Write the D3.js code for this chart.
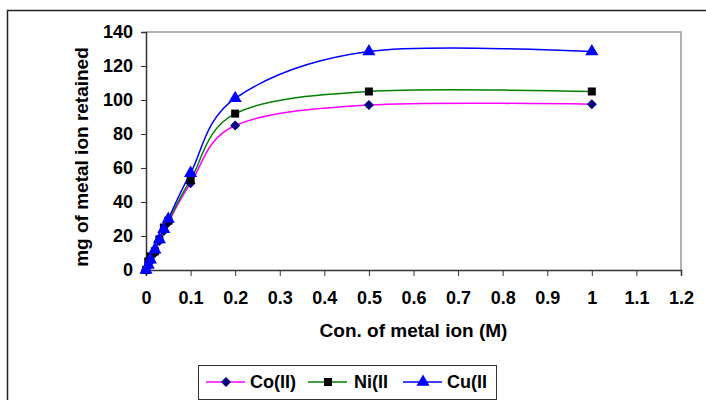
<!DOCTYPE html>
<html>
<head>
<meta charset="utf-8">
<script src="https://cdn.jsdelivr.net/npm/d3@7"></script>
<style>
  body { margin: 0; background: #fff; }
  svg text { font-family: "Liberation Sans", Arial, sans-serif; font-weight: bold; }
</style>
</head>
<body>
<div id="canvas"></div>
<script>
const canvWidth = 706, canvHeight = 400;

// data
const conc = [0, 0.005, 0.01, 0.02, 0.03, 0.04, 0.05, 0.1, 0.2, 0.5, 1.0];
const coValues = [0, 2, 5, 10, 17, 23, 28, 51, 85, 97, 97.5];
const niValues = [0, 5, 8, 11, 18, 25, 29, 53, 92, 105, 105];
const cuValues = [0, 3, 6, 12, 18, 24, 30, 57, 101, 128.5, 128.5];
const seriesNames = ["Co(II)", "Ni(II", "Cu(II"];
const xTicks = [0, 0.1, 0.2, 0.3, 0.4, 0.5, 0.6, 0.7, 0.8, 0.9, 1, 1.1, 1.2];
const yTicks = [0, 20, 40, 60, 80, 100, 120, 140];

// diamond = square turned 45 degrees
const styles = [
    {line: "#ff00ff", fill: "#000080", symbol: d3.symbolSquare, size: 50, rot: 45},
    {line: "#008000", fill: "#000000", symbol: d3.symbolSquare, size: 64, rot: 0},
    {line: "#0000ff", fill: "#0000ff", symbol: d3.symbolTriangle, size: 75, rot: 0}
];

const svg = d3.select("#canvas").append("svg")
    .attr("width", canvWidth)
    .attr("height", canvHeight);

// outer chart frame (runs off the right and bottom)
svg.append("rect")
    .attr("x", 7.5).attr("y", 10.5)
    .attr("width", 720).attr("height", 420)
    .attr("fill", "none")
    .attr("stroke", "#222")
    .attr("stroke-width", 1.5);

const margin = {top: 32, right: 25, bottom: 130, left: 146};
const width = canvWidth - margin.left - margin.right;
const height = canvHeight - margin.top - margin.bottom;

const x = d3.scaleLinear().domain([0, 1.2]).range([0, width]);
const y = d3.scaleLinear().domain([0, 140]).range([height, 0]);

const g = svg.append("g")
    .attr("transform", "translate(" + margin.left + "," + margin.top + ")");

// plot area border (top and right in grey)
g.append("path")
    .attr("d", "M0,0H" + width + "V" + height)
    .attr("fill", "none")
    .attr("stroke", "#999")
    .attr("stroke-width", 1.5);

const xAxis = g.append("g")
    .attr("transform", "translate(0," + height + ")")
    .call(d3.axisBottom(x).tickValues(xTicks).tickSize(6).tickPadding(15)
        .tickFormat(function (d) { return d3.format("")(d); }));

const yAxis = g.append("g")
    .call(d3.axisLeft(y).tickValues(yTicks).tickSize(5).tickPadding(8));

[xAxis, yAxis].forEach(function (a) {
    a.select(".domain").attr("stroke", "#333").attr("stroke-width", 1.5);
    a.selectAll(".tick line").attr("stroke", "#333");
    a.selectAll("text").attr("font-size", 18).attr("fill", "#000")
        .style("font-family", "Liberation Sans, Arial, sans-serif");
});

const allValues = [coValues, niValues, cuValues];

const line = d3.line()
    .x(function (d, i) { return x(conc[i]); })
    .y(function (d) { return y(d); })
    .curve(d3.curveCardinal.tension(0));

allValues.forEach(function (vals, k) {
    g.append("path")
        .datum(vals)
        .attr("fill", "none")
        .attr("stroke", styles[k].line)
        .attr("stroke-width", 1.5)
        .attr("d", line);
});

allValues.forEach(function (vals, k) {
    g.selectAll(".m" + k)
        .data(vals)
        .enter().append("path")
        .attr("class", "m" + k)
        .attr("transform", function (d, i) {
            return "translate(" + x(conc[i]) + "," + y(d) + ") rotate(" + styles[k].rot + ")";
        })
        .attr("d", d3.symbol().type(styles[k].symbol).size(styles[k].size))
        .attr("fill", styles[k].fill);
});

// axis titles
svg.append("text")
    .attr("x", margin.left + x(0.6))
    .attr("y", 337)
    .attr("text-anchor", "middle")
    .attr("font-size", 19)
    .text("Con. of metal ion (M)");

svg.append("text")
    .attr("transform", "translate(88,157) rotate(-90)")
    .attr("text-anchor", "middle")
    .attr("font-size", 19)
    .text("mg of metal ion retained");

// legend
const legend = svg.append("g").attr("transform", "translate(198,365)");
legend.append("rect")
    .attr("x", 0.5).attr("y", 0.5)
    .attr("width", 298).attr("height", 34)
    .attr("fill", "#fff")
    .attr("stroke", "#333");

const legendX = [8, 110, 205];
const textX = [44, 46, 44];
seriesNames.forEach(function (name, k) {
    const item = legend.append("g").attr("transform", "translate(" + legendX[k] + ",17)");
    item.append("line")
        .attr("x1", 0).attr("x2", 39)
        .attr("stroke", styles[k].line)
        .attr("stroke-width", 1.5);
    item.append("path")
        .attr("transform", "translate(20,0) rotate(" + styles[k].rot + ")")
        .attr("d", d3.symbol().type(styles[k].symbol).size(styles[k].size))
        .attr("fill", styles[k].fill);
    item.append("text")
        .attr("x", textX[k])
        .attr("y", 6)
        .attr("font-size", 18)
        .text(name);
});
</script>
</body>
</html>
